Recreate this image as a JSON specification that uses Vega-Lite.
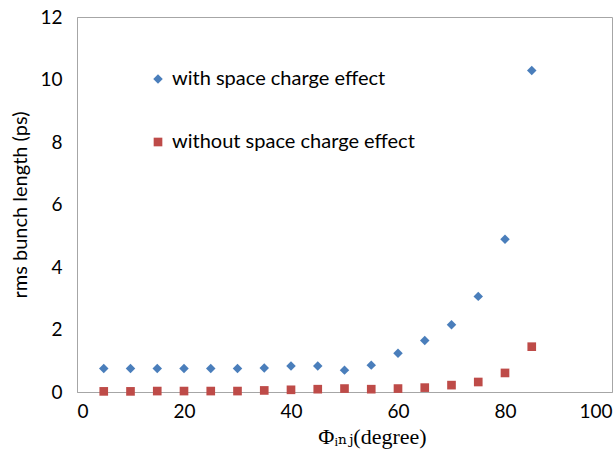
{
  "$schema": "https://vega.github.io/schema/vega-lite/v6.json",
  "width": 614,
  "height": 462,
  "autosize": {"type": "fit", "contains": "padding"},
  "padding": {"left": 10, "top": 8, "right": 2, "bottom": 15},
  "background": "white",
  "config": {
    "view": {"stroke": "#a6a6a6", "strokeWidth": 1},
    "font": "Lato"
  },
  "data": {
    "values": [
      {"phi": 5, "len": 0.75, "series": "with space charge effect"},
      {"phi": 10, "len": 0.75, "series": "with space charge effect"},
      {"phi": 15, "len": 0.75, "series": "with space charge effect"},
      {"phi": 20, "len": 0.75, "series": "with space charge effect"},
      {"phi": 25, "len": 0.75, "series": "with space charge effect"},
      {"phi": 30, "len": 0.75, "series": "with space charge effect"},
      {"phi": 35, "len": 0.77, "series": "with space charge effect"},
      {"phi": 40, "len": 0.83, "series": "with space charge effect"},
      {"phi": 45, "len": 0.83, "series": "with space charge effect"},
      {"phi": 50, "len": 0.7, "series": "with space charge effect"},
      {"phi": 55, "len": 0.86, "series": "with space charge effect"},
      {"phi": 60, "len": 1.24, "series": "with space charge effect"},
      {"phi": 65, "len": 1.65, "series": "with space charge effect"},
      {"phi": 70, "len": 2.15, "series": "with space charge effect"},
      {"phi": 75, "len": 3.06, "series": "with space charge effect"},
      {"phi": 80, "len": 4.89, "series": "with space charge effect"},
      {"phi": 85, "len": 10.29, "series": "with space charge effect"},
      {"phi": 5, "len": 0.02, "series": "without space charge effect"},
      {"phi": 10, "len": 0.02, "series": "without space charge effect"},
      {"phi": 15, "len": 0.03, "series": "without space charge effect"},
      {"phi": 20, "len": 0.03, "series": "without space charge effect"},
      {"phi": 25, "len": 0.03, "series": "without space charge effect"},
      {"phi": 30, "len": 0.03, "series": "without space charge effect"},
      {"phi": 35, "len": 0.05, "series": "without space charge effect"},
      {"phi": 40, "len": 0.07, "series": "without space charge effect"},
      {"phi": 45, "len": 0.09, "series": "without space charge effect"},
      {"phi": 50, "len": 0.11, "series": "without space charge effect"},
      {"phi": 55, "len": 0.09, "series": "without space charge effect"},
      {"phi": 60, "len": 0.11, "series": "without space charge effect"},
      {"phi": 65, "len": 0.14, "series": "without space charge effect"},
      {"phi": 70, "len": 0.22, "series": "without space charge effect"},
      {"phi": 75, "len": 0.32, "series": "without space charge effect"},
      {"phi": 80, "len": 0.61, "series": "without space charge effect"},
      {"phi": 85, "len": 1.45, "series": "without space charge effect"}
    ]
  },
  "mark": {"type": "point", "filled": true, "opacity": 1},
  "encoding": {
    "x": {
      "field": "phi", "type": "quantitative",
      "scale": {"domain": [0, 100], "nice": false},
      "axis": {
        "values": [0, 20, 40, 60, 80, 100],
        "grid": false, "ticks": false, "domainColor": "#a6a6a6",
        "labelFontSize": 19, "labelColor": "#000", "labelPadding": 10,
        "labelFont": "Lato",
        "title": "Φᵢₙⱼ(degree)", "titleFont": "Times New Roman, Liberation Serif, DejaVu Serif, serif",
        "titleFontSize": 22, "titleFontWeight": "normal", "titleColor": "#000",
        "titlePadding": 5, "titleX": 295, "titleAlign": "center"
      }
    },
    "y": {
      "field": "len", "type": "quantitative",
      "scale": {"domain": [0, 12], "nice": false},
      "axis": {
        "values": [0, 2, 4, 6, 8, 10, 12],
        "grid": false, "ticks": false, "domainColor": "#a6a6a6",
        "labelFontSize": 19, "labelColor": "#000", "labelPadding": 15,
        "labelFont": "Lato",
        "title": "rms bunch length (ps)", "titleFontSize": 20,
        "titleFontWeight": "normal", "titleColor": "#000", "titleFont": "Lato",
        "titlePadding": 9
      }
    },
    "color": {
      "field": "series", "type": "nominal",
      "scale": {"domain": ["with space charge effect", "without space charge effect"], "range": ["#4a7ebb", "#be4b48"]},
      "legend": {
        "title": null, "orient": "none", "legendX": 71, "legendY": 52,
        "labelFontSize": 20, "labelColor": "#000", "labelFont": "Lato",
        "labelLimit": 400,
        "rowPadding": 43, "symbolSize": 60, "labelOffset": 4
      }
    },
    "shape": {
      "field": "series", "type": "nominal",
      "scale": {"domain": ["with space charge effect", "without space charge effect"], "range": ["diamond", "square"]}
    },
    "size": {
      "field": "series", "type": "nominal",
      "scale": {"domain": ["with space charge effect", "without space charge effect"], "range": [90, 75]},
      "legend": null
    }
  }
}
